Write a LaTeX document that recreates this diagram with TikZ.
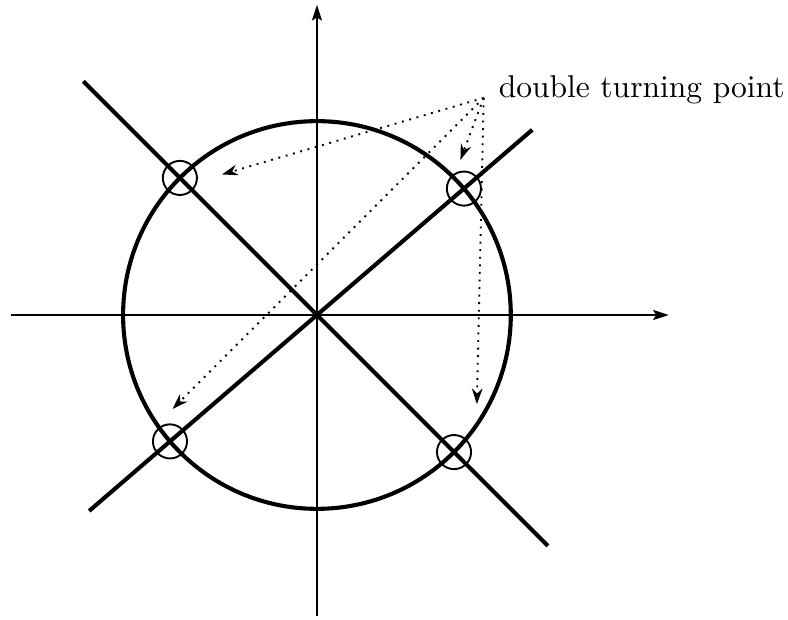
\documentclass[tikz,border=0pt]{standalone}
\usepackage{tikz}
\usetikzlibrary{arrows.meta,positioning}
\tikzset{
  axis/.style={
    line width=0.6pt,
    -{Stealth[length=5pt,width=3.2pt,inset=1pt]},
  },
  curve/.style={line width=1.3pt},
  marker/.style={
    draw,
    circle,
    minimum size=3.8mm,
    inner sep=0pt,
    line width=0.6pt,
  },
  pointer/.style={
    line width=0.6pt,
    dash pattern=on 0.6pt off 1.8pt,
    -{Stealth[length=5pt,width=3.4pt]},
  },
}
\begin{document}
\begin{tikzpicture}[x=1.08cm, y=1.08cm]
  \useasboundingbox (-3.27,-3.14) rectangle (4.86,3.25);
  \draw[axis] (-3.16,0) -- (3.63,0);
  \draw[axis] (0,-3.11) -- (0,3.20);
  \draw[curve] (0,0) circle (2);
  \draw[curve] (135:3.41) -- (-45:3.37);
  \draw[curve] (220.7:3.10) -- (40.7:2.93);
  \foreach \a/\n in {135/nw, 40.7/ne, 220.7/sw, -45/se}
    \node[marker] (\n) at (\a:2) {};
  \node[anchor=base west, inner sep=0pt] (label) at (1.87,2.24) {double turning point};
  \coordinate (src) at (1.72,2.24);
  \coordinate (tnw) at (-0.98,1.45);
  \coordinate (tne) at (1.48,1.60);
  \coordinate (tsw) at (-1.49,-0.97);
  \coordinate (tse) at (1.65,-0.92);
  \foreach \t in {tnw,tne,tsw,tse}
    \draw[pointer] (src) -- (\t);
\end{tikzpicture}
\end{document}
